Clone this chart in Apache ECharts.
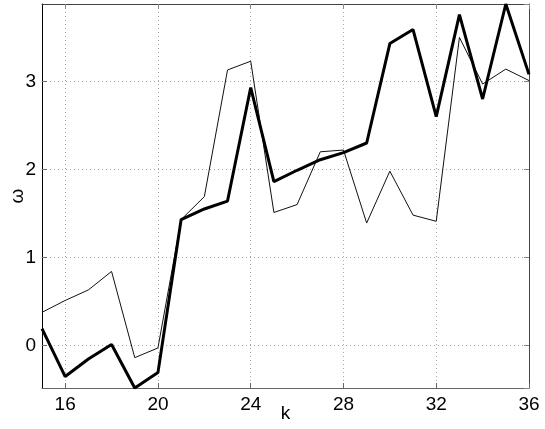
<!DOCTYPE html>
<html>
<head>
<meta charset="utf-8">
<script src="https://cdn.jsdelivr.net/npm/echarts@6/dist/echarts.min.js"></script>
<style>
  html, body { margin: 0; padding: 0; background: #fff; }
  #chart { width: 545px; height: 429px; }
</style>
</head>
<body>
<div id="chart"></div>
<script>
// k = 15 .. 36
var kValues = [15, 16, 17, 18, 19, 20, 21, 22, 23, 24, 25, 26, 27, 28, 29, 30, 31, 32, 33, 34, 35, 36];
var thinLine = [0.375, 0.51, 0.63, 0.84, -0.14, -0.03, 1.43, 1.69, 3.13, 3.23, 1.51,
                1.60, 2.20, 2.22, 1.39, 1.98, 1.48, 1.41, 3.50, 2.97, 3.14, 3.01];
var thickLine = [0.19, -0.355, -0.155, 0.01, -0.485, -0.31, 1.43, 1.55, 1.64, 2.93, 1.86,
                 1.99, 2.11, 2.19, 2.30, 3.43, 3.59, 2.60, 3.76, 2.80, 3.88, 3.08];
var yMin = -0.485;
var yMax = 3.88;

var font = 'Liberation Sans';
var showEvery4 = function (index, value) { return Number(value) % 4 === 0; };
var dotted = { color: '#a8a8a8', type: [1, 3], width: 1 };

var chart = echarts.init(document.getElementById('chart'));
chart.setOption({
    animation: false,
    backgroundColor: '#fff',
    grid: { left: 42, right: 16, top: 4, bottom: 41, outerBoundsMode: 'none', containLabel: false },
    xAxis: [
        {
            type: 'category',
            data: kValues,
            boundaryGap: false,
            name: 'k',
            nameLocation: 'middle',
            nameGap: 16,
            nameMoveOverlap: false,
            nameTextStyle: { color: '#000', fontFamily: font, fontSize: 19 },
            axisLine: { onZero: false, lineStyle: { color: '#666', width: 1 } },
            axisTick: { inside: true, length: 5, interval: showEvery4, lineStyle: { color: '#666' } },
            axisLabel: { interval: showEvery4, color: '#000', fontFamily: font, fontSize: 19, margin: 7 },
            splitLine: { show: true, interval: showEvery4, lineStyle: dotted }
        },
        {
            type: 'category',
            data: kValues,
            boundaryGap: false,
            position: 'top',
            axisLine: { onZero: false, lineStyle: { color: '#444', width: 1 } },
            axisTick: { inside: true, length: 5, interval: showEvery4, lineStyle: { color: '#888' } },
            axisLabel: { show: false },
            splitLine: { show: false }
        }
    ],
    yAxis: [
        {
            type: 'value',
            min: yMin,
            max: yMax,
            name: 'ω',
            nameLocation: 'middle',
            nameGap: 15,
            nameMoveOverlap: false,
            nameTextStyle: { color: '#000', fontFamily: font, fontSize: 19 },
            axisLine: { show: true, onZero: false, lineStyle: { color: '#000', width: 1 } },
            axisTick: { show: true, inside: true, length: 5, lineStyle: { color: '#666' } },
            axisLabel: { showMinLabel: false, showMaxLabel: false, color: '#000', fontFamily: font, fontSize: 19, margin: 6 },
            splitLine: { show: true, lineStyle: dotted }
        },
        {
            type: 'value',
            min: yMin,
            max: yMax,
            position: 'right',
            axisLine: { show: true, onZero: false, lineStyle: { color: '#444', width: 1 } },
            axisTick: { show: true, inside: true, length: 5, lineStyle: { color: '#888' } },
            axisLabel: { show: false },
            splitLine: { show: false }
        }
    ],
    series: [
        {
            name: 'thin',
            type: 'line',
            data: thinLine,
            showSymbol: false,
            lineStyle: { color: '#111', width: 1 },
            z: 2
        },
        {
            name: 'thick',
            type: 'line',
            data: thickLine,
            showSymbol: false,
            lineStyle: { color: '#000', width: 3 },
            z: 3
        }
    ]
});
</script>
</body>
</html>
